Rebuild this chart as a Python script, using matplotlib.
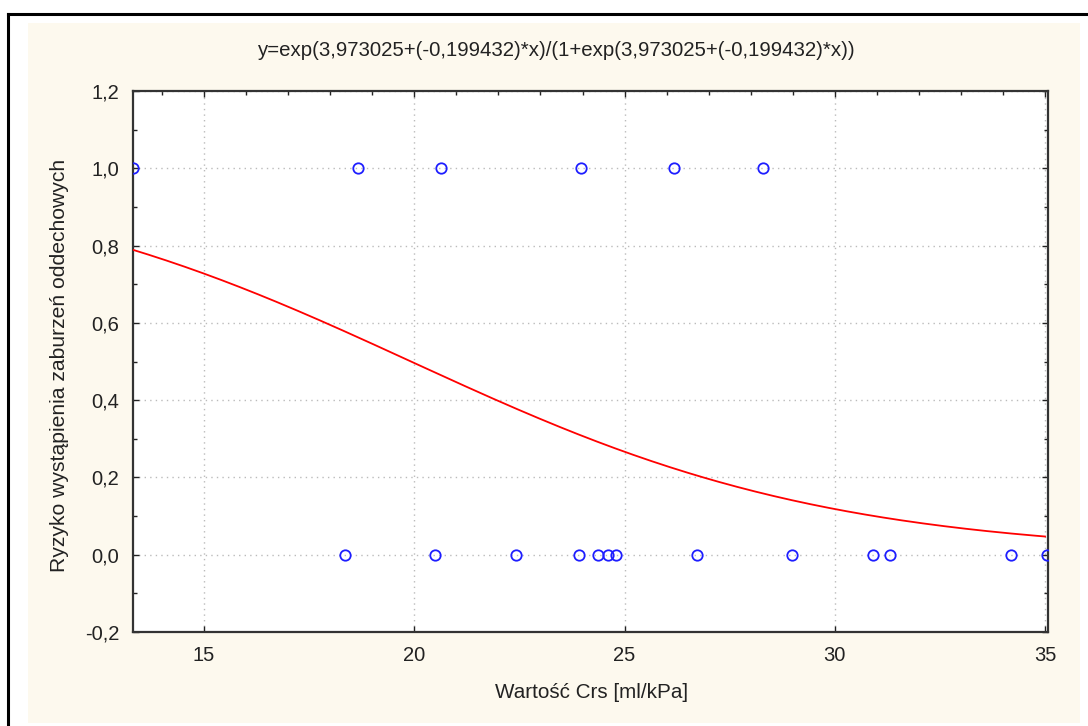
import numpy as np
import matplotlib
matplotlib.use("Agg")
import matplotlib.pyplot as plt
from matplotlib.ticker import FixedLocator, MultipleLocator, FuncFormatter
from matplotlib.lines import Line2D
from matplotlib.patches import Rectangle

plt.rcParams['font.family'] = ['Liberation Sans', 'DejaVu Sans']

# data
x_events = [13.31, 18.66, 20.64, 23.97, 26.18, 28.29]
y_events = [1.0, 1.0, 1.0, 1.0, 1.0, 1.0]
x_none = [18.35, 20.49, 22.41, 23.91, 24.38, 24.61, 24.79, 26.72, 28.98, 30.92, 31.31, 34.19, 35.04]
y_none = [0.0] * len(x_none)
b0 = 3.973025
b1 = -0.199432
title = "y=exp(3,973025+(-0,199432)*x)/(1+exp(3,973025+(-0,199432)*x))"
xlabel = "Wartość Crs [ml/kPa]"
ylabel = "Ryzyko wystąpienia zaburzeń oddechowych"
xticks = [15, 20, 25, 30, 35]
yticks = [-0.2, 0.0, 0.2, 0.4, 0.6, 0.8, 1.0, 1.2]

W, H = 1088, 726
fig = plt.figure(figsize=(W / 100, H / 100), dpi=100, facecolor='white')

# cream panel and outer border
fig.patches.append(Rectangle((28 / W, 1 - 723 / H), (1080 - 28) / W, (723 - 23) / H,
                             transform=fig.transFigure, facecolor='#FDF9EE', edgecolor='none', zorder=0))
fig.lines.append(Line2D([8 / W, 8 / W], [0, 1 - 14 / H], transform=fig.transFigure, color='black', lw=2.2))
fig.lines.append(Line2D([8 / W, 1], [1 - 14 / H, 1 - 14 / H], transform=fig.transFigure, color='black', lw=2.2))

ax = fig.add_axes([133 / W, 1 - 632 / H, (1048 - 133) / W, (632 - 91) / H])
ax.set_zorder(2)
ax.set_facecolor('white')

xs = np.linspace(13.31, 35.0, 300)
ys = np.exp(b0 + b1 * xs) / (1 + np.exp(b0 + b1 * xs))
ax.plot(xs, ys, color='#FF0000', lw=1.3, zorder=3)

ax.plot(x_events, y_events, 'o', ms=7.5, mfc='none', mec='#1E1EFF', mew=1.3, zorder=4)
ax.plot(x_none, y_none, 'o', ms=7.5, mfc='none', mec='#1E1EFF', mew=1.3, zorder=4)

ax.set_xlim(13.31, 35.07)
ax.set_ylim(-0.2, 1.2)
ax.xaxis.set_major_locator(FixedLocator(xticks))
ax.yaxis.set_major_locator(FixedLocator(yticks))
ax.xaxis.set_minor_locator(MultipleLocator(1))
ax.yaxis.set_minor_locator(MultipleLocator(0.1))
ax.xaxis.set_major_formatter(FuncFormatter(lambda v, p: f"{v:.0f}"))
ax.yaxis.set_major_formatter(FuncFormatter(lambda v, p: f"{v:.1f}".replace('.', ',').replace('-0,0', '0,0')))

ax.grid(True, which='major', color='#BBBBBB', linestyle=(0, (1, 3)), lw=1.0)
ax.tick_params(which='both', direction='in', top=True, right=True, color='#222222')
ax.tick_params(which='major', length=4, width=1, labelsize=14.5, colors='#222222', pad=10)
ax.tick_params(which='minor', length=3, width=1)
ax.tick_params(axis='x', which='minor', bottom=False)
ax.tick_params(axis='x', which='major', pad=10)
for s in ax.spines.values():
    s.set_color('#333333')
    s.set_linewidth(1.6)

fig.text(557 / W, 1 - 50 / H, title, ha='center', va='center', fontsize=14.7, color='#222222')
fig.text(592 / W, 1 - 693 / H, xlabel, ha='center', va='center', fontsize=14.9, color='#222222')
fig.text(60 / W, 1 - 365 / H, ylabel, ha='center', va='center', rotation=90, fontsize=15.2, color='#222222')

fig.savefig('out.png', dpi=100, facecolor='white')
